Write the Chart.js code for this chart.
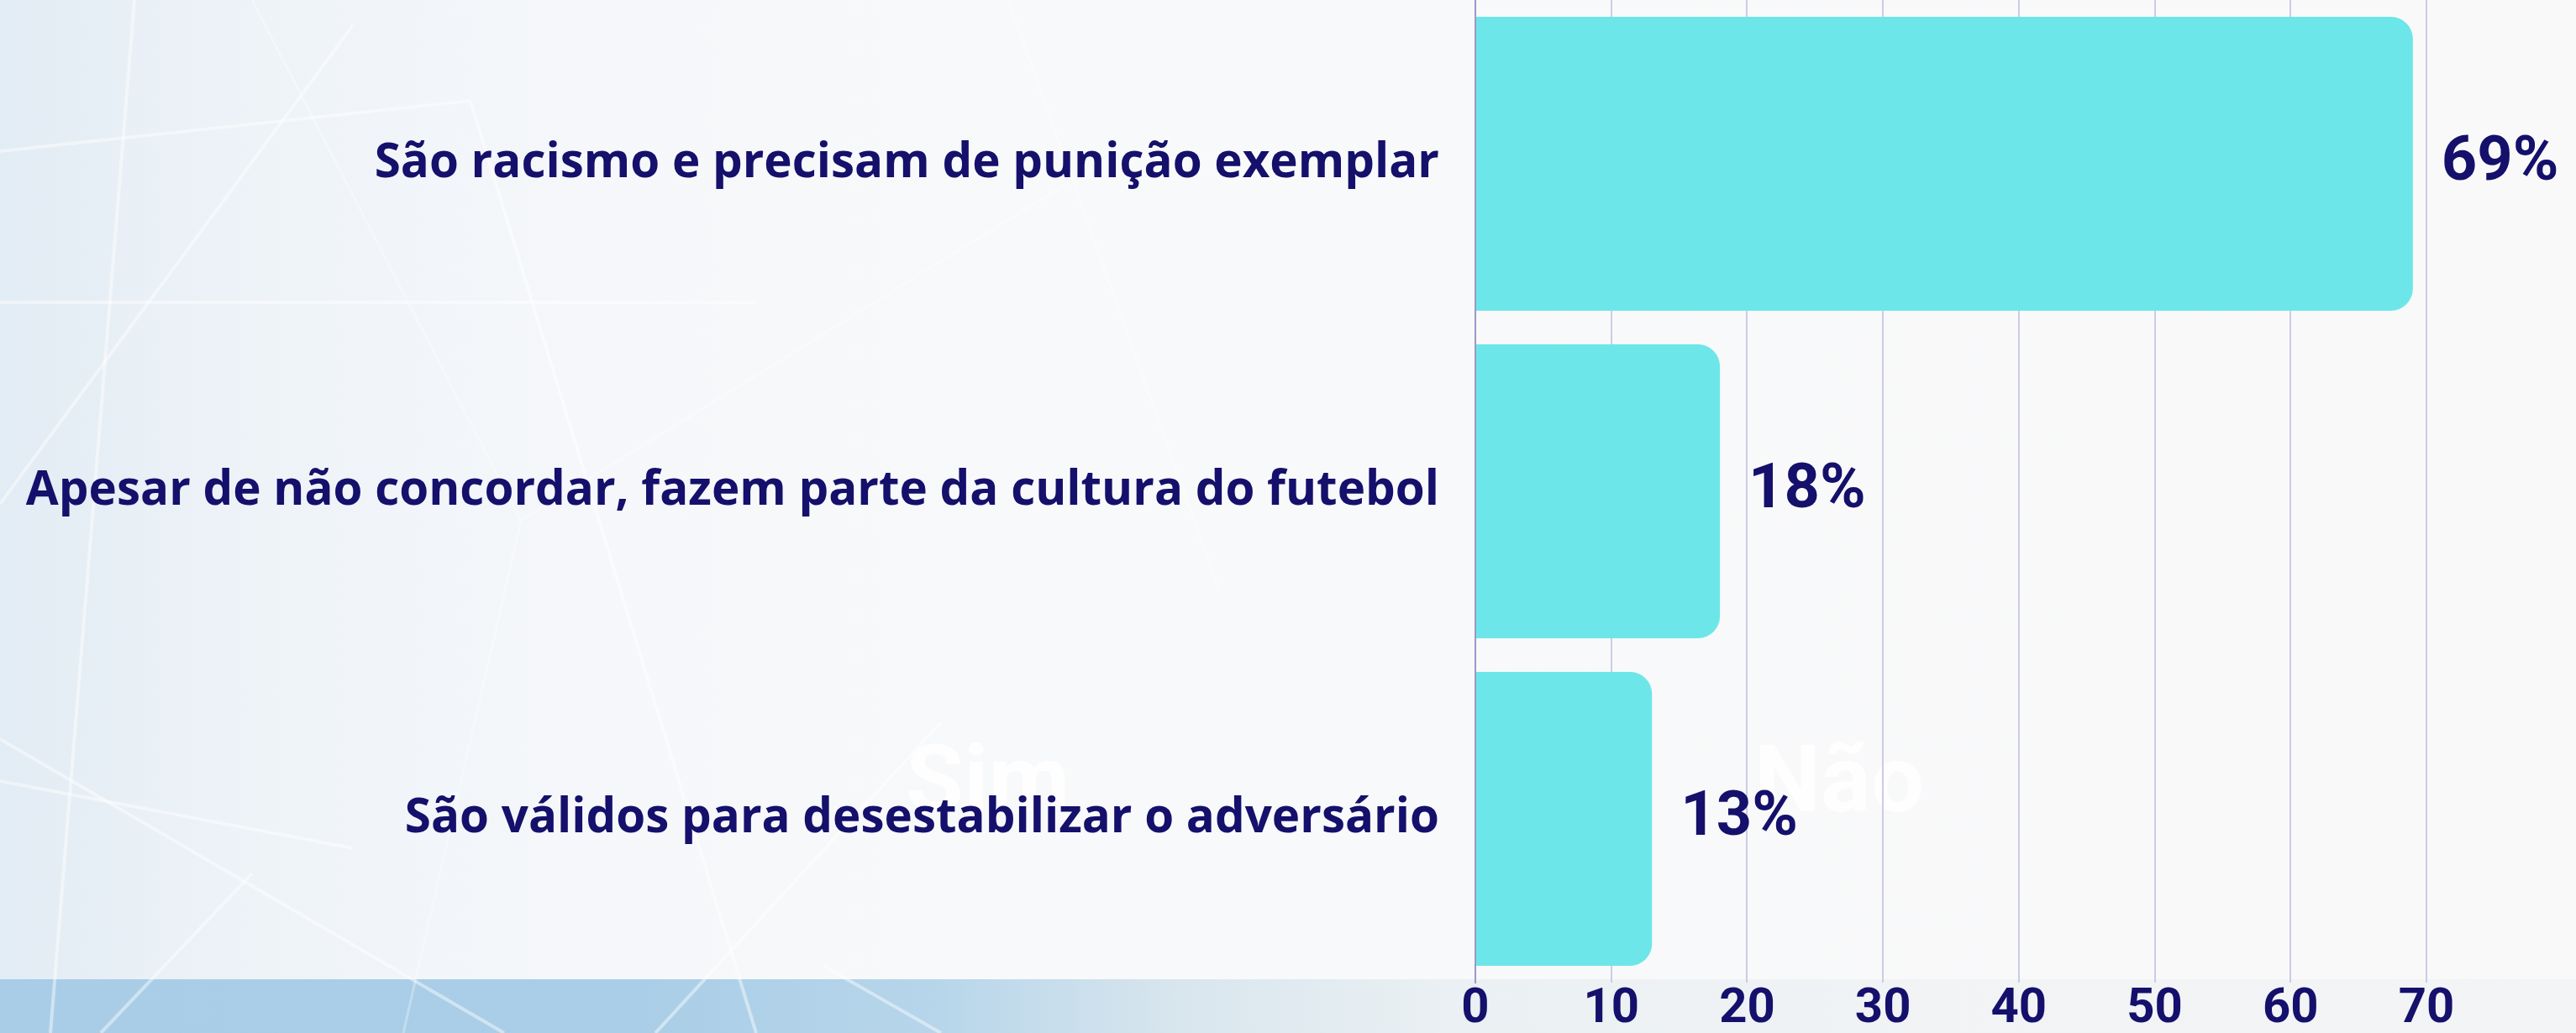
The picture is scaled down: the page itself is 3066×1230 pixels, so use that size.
<!DOCTYPE html>
<html>
<head>
<meta charset="utf-8">
<script src="https://cdn.jsdelivr.net/npm/chart.js@4"></script>
<style>
  html, body { margin: 0; padding: 0; }
  body { width: 3066px; height: 1230px; overflow: hidden; position: relative;
    background: linear-gradient(90deg, #e2ecf4 0%, #eef3f8 10%, #f5f7fa 22%, #f8f9fa 40%, #f9f9fa 100%); }
  #band { position: absolute; left: 0; top: 1166px; width: 3066px; height: 64px;
    background: linear-gradient(90deg, #a9cde6 0%, #aacee7 25%, #b6d5ea 36%, #d9e6ee 46%, #eaf0f3 56%, #f1f3f5 75%, #f3f4f6 100%); }
  #net { position: absolute; left: 0; top: 0; }
  .ghost { position: absolute; color: #ffffff; font-family: Roboto, sans-serif; font-weight: 700;
    font-size: 112px; line-height: 1; opacity: 0.95; }
  #wrap { position: absolute; left: 0; top: 0; width: 3066px; height: 1230px; }
</style>
</head>
<body>
<div id="band"></div>
<svg id="net" width="3066" height="1230">
  <g stroke="#ffffff" stroke-opacity="0.45" stroke-width="4" fill="none">
    <line x1="0" y1="180" x2="560" y2="120"/>
    <line x1="0" y1="600" x2="420" y2="30"/>
    <line x1="160" y1="0" x2="60" y2="1230"/>
    <line x1="0" y1="930" x2="420" y2="1010"/>
    <line x1="0" y1="880" x2="600" y2="1230"/>
    <line x1="560" y1="120" x2="900" y2="1230"/>
    <line x1="0" y1="360" x2="900" y2="360"/>
    <line x1="120" y1="1230" x2="300" y2="1040"/>
    <line x1="780" y1="1230" x2="1120" y2="860"/>
    <line x1="980" y1="1150" x2="1120" y2="1230"/>
  </g>
  <g stroke="#ffffff" stroke-opacity="0.3" stroke-width="3" fill="none">
    <line x1="300" y1="0" x2="620" y2="620"/>
    <line x1="620" y1="620" x2="1300" y2="200"/>
    <line x1="620" y1="620" x2="480" y2="1230"/>
    <line x1="1200" y1="0" x2="1450" y2="700"/>
  </g>
</svg>
<div class="ghost" style="left:1078px; top:872px;">Sim</div>
<div class="ghost" style="left:2088px; top:872px;">Não</div>
<div id="wrap"><canvas id="c" width="3066" height="1230"></canvas></div>
<script>
const categories = [
  "São racismo e precisam de punição exemplar",
  "Apesar de não concordar, fazem parte da cultura do futebol",
  "São válidos para desestabilizar o adversário"
];
const values = [69, 18, 13];
const valueLabels = ["69%", "18%", "13%"];
const xTicks = [0, 10, 20, 30, 40, 50, 60, 70];

const NAVY = "#14106b";
const FONT = "Roboto";
const LABEL_FONT = "'Open Sans'";

const valueLabelPlugin = {
  id: "valueLabels",
  afterDatasetsDraw(chart) {
    const ctx = chart.ctx;
    const meta = chart.getDatasetMeta(0);
    ctx.save();
    ctx.font = "700 74px " + FONT;
    ctx.fillStyle = NAVY;
    ctx.textAlign = "left";
    ctx.textBaseline = "middle";
    meta.data.forEach((bar, i) => {
      ctx.fillText(valueLabels[i], bar.x + 34, bar.y);
    });
    ctx.restore();
  }
};

new Chart(document.getElementById("c"), {
  type: "bar",
  data: {
    labels: categories,
    datasets: [{
      data: values,
      backgroundColor: "#6de6e9",
      borderWidth: 0,
      borderRadius: 26,
      borderSkipped: "start",
      categoryPercentage: 1,
      barPercentage: 0.897
    }]
  },
  options: {
    indexAxis: "y",
    responsive: false,
    animation: false,
    events: [],
    layout: { padding: { left: 0, right: 178, top: 0, bottom: 0 } },
    plugins: { legend: { display: false }, tooltip: { enabled: false } },
    scales: {
      x: {
        min: 0, max: 70,
        afterBuildTicks(scale) { scale.ticks = xTicks.map(v => ({ value: v })); },
        afterFit(scale) { scale.height = 60; scale.paddingLeft = 0; scale.paddingRight = 0; },
        ticks: { color: NAVY, padding: 3, font: { family: FONT, size: 58, weight: "700", lineHeight: 1 } },
        grid: { color: "#cdcbe4", lineWidth: 2, drawTicks: false },
        border: { display: false }
      },
      y: {
        afterFit(scale) { scale.width = 1756; scale.paddingTop = 0; scale.paddingBottom = 0; },
        ticks: { color: NAVY, padding: 43, font: { family: LABEL_FONT, size: 56.5, weight: "700" } },
        grid: { display: false, drawTicks: false },
        border: { display: true, color: "#9c99c9", width: 2 }
      }
    }
  },
  plugins: [valueLabelPlugin]
});
</script>
</body>
</html>
